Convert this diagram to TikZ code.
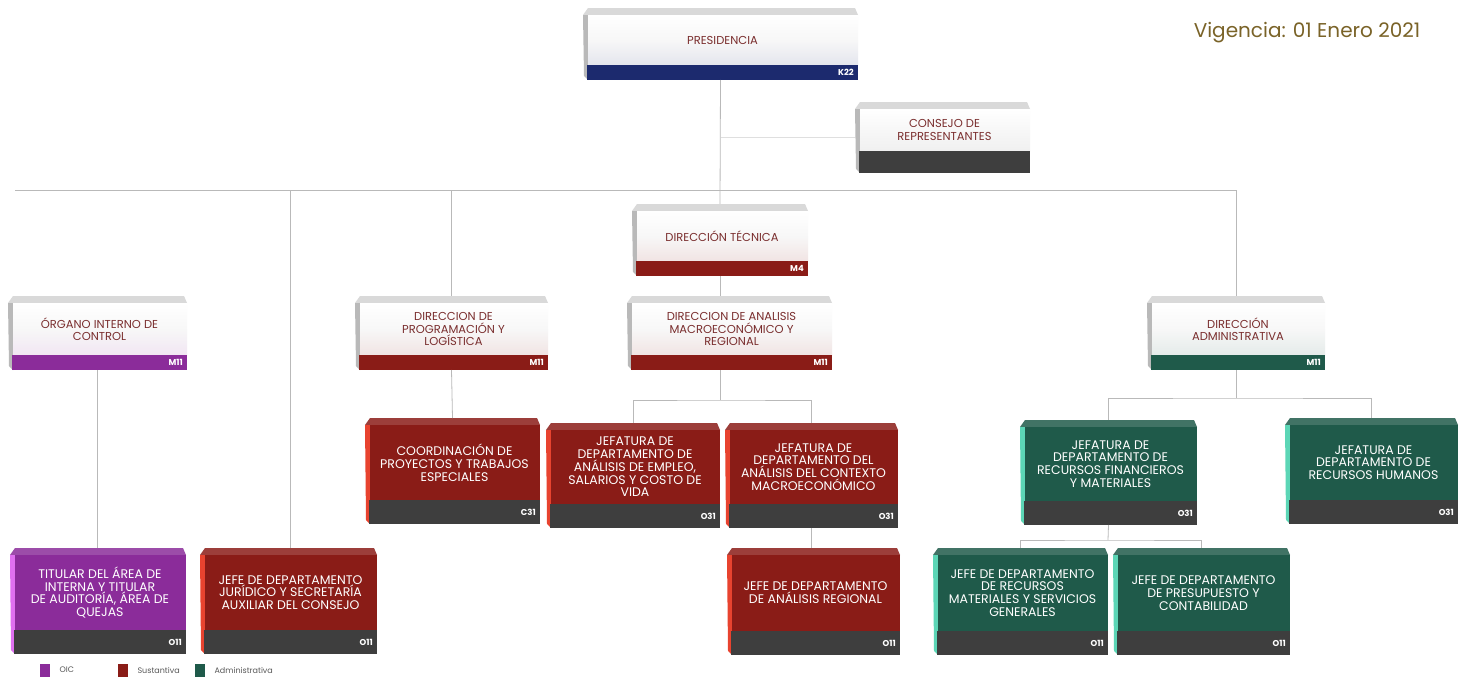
\documentclass[tikz,border=0pt]{standalone}
\usepackage{fontspec}
\setmainfont{Poppins}
\usepackage{tikz}
\usetikzlibrary{positioning}

\definecolor{azulK}{HTML}{1C2A6E}
\definecolor{rojoCaja}{HTML}{8A1C17}
\definecolor{rojoLado}{HTML}{E8432F}
\definecolor{verdeCaja}{HTML}{1F5A4A}
\definecolor{verdeLado}{HTML}{5CD6B6}
\definecolor{moradoCaja}{HTML}{8B2C9A}
\definecolor{moradoLado}{HTML}{E070F0}
\definecolor{grisBarra}{HTML}{3E3E3E}
\definecolor{textoCafe}{HTML}{7A2E2E}
\definecolor{vigencia}{HTML}{7A6328}

% alto de la barra inferior segun tipo
\def\altoBlanca{15}
\def\altoConsejo{22}
\def\altoRoja{24}
\def\altoVerde{24}
\def\altoMorada{24}

\tikzset{
  caja/.style={rectangle, inner sep=0pt, outer sep=0pt, draw=none},
  linea/.style={draw=gray!55, line width=0.8pt},
  clave/.style={inner sep=0pt, text=white, font=\fontsize{8.5}{8.5}\selectfont\bfseries},
  leyenda/.style={anchor=west, text=gray!70!black, font=\fontsize{8}{8}\selectfont},
  textoBlanca/.style={align=center, inner sep=0pt, text=textoCafe, font=\fontsize{11.5}{12.5}\selectfont},
  textoConsejo/.style={textoBlanca},
  textoRoja/.style={align=center, inner sep=0pt, text=white, font=\fontsize{12.5}{12.8}\selectfont},
  textoVerde/.style={textoRoja},
  textoMorada/.style={textoRoja},
  caraBlanca/.style={top color=white, bottom color=#1!12, middle color=gray!6},
  caraConsejo/.style={top color=white, bottom color=gray!12},
  topeBlanca/.style={fill=gray!30},
  topeConsejo/.style={topeBlanca},
  ladoBlanca/.style={fill=gray!55},
  ladoConsejo/.style={ladoBlanca},
  caraRoja/.style={fill=rojoCaja},
  topeRoja/.style={fill=rojoCaja!85!white},
  ladoRoja/.style={fill=rojoLado},
  caraVerde/.style={fill=verdeCaja},
  topeVerde/.style={fill=verdeCaja!85!white},
  ladoVerde/.style={fill=verdeLado},
  caraMorada/.style={fill=moradoCaja},
  topeMorada/.style={fill=moradoCaja!85!white},
  ladoMorada/.style={fill=moradoLado}
}

% #1 tipo, #2 nombre, #3 #4 esquina sup. izq., #5 #6 esquina inf. der., #7 barra, #8 clave, #9 texto
\newcommand{\unidad}[9]{%
  \edef\barra{\csname alto#1\endcsname}%
  \fill[tope#1] (#3,#4+7) -- (#3+5,#4) -- (#5-3,#4) -- (#5,#4+7) -- cycle;
  \fill[lado#1] (#3,#4+7) -- (#3+5,#4+7) -- (#3+5,#6) -- (#3+1,#6-4) -- cycle;
  \fill[cara#1=#7] (#3+5,#4+7) rectangle (#5,#6-\barra);
  \fill[#7] (#3+4,#6-\barra) rectangle (#5,#6);
  \node[caja, minimum width={#5-#3}, minimum height={#6-#4}] (#2) at ({(#3+#5)/2},{(#4+#6)/2}) {};
  \node[texto#1] (#2-t) at ({(#3+#5)/2+2},{(#4+7+#6-\barra)/2}) {#9};
  \node[clave, anchor=east] (#2-c) at (#5-4,{#6-\barra/2}) {#8};
}

\begin{document}
\begin{tikzpicture}[x=1pt,y=-1pt]
\fill[white] (0,0) rectangle (1468,688);
\useasboundingbox (0,0) rectangle (1468,688);

\node[text=vigencia, font=\fontsize{20}{22}\selectfont] (vig) at (1307,33) {Vigencia: 01 Enero 2021};

% conectores
\coordinate (bus) at (15,190);
\coordinate (ramaA) at (720,400);
\coordinate (ramaB) at (1236,398);
\coordinate (ramaC) at (1108,540);

\unidad{Blanca}{presidencia}{583}{8}{858}{80}{azulK}{K22}{PRESIDENCIA}
\unidad{Consejo}{consejo}{855}{102}{1030}{173}{grisBarra}{}{CONSEJO DE\\REPRESENTANTES}

\draw[draw=gray!25, line width=0.8pt] (presidencia.south |- consejo.west) -- (consejo.west);
\draw[linea] (presidencia.south) -- (720,204);
\draw[linea] (bus) -- (1236,190) -- (1236,296);
\draw[linea] (290,190) -- (290,548);
\draw[linea] (451,190) -- (451,296);

\unidad{Blanca}{tecnica}{632}{204}{808}{276}{rojoCaja}{M4}{DIRECCIÓN TÉCNICA}
\unidad{Blanca}{organo}{8}{296}{187}{370}{moradoCaja}{M11}{ÓRGANO INTERNO DE\\CONTROL}
\unidad{Blanca}{programacion}{355}{296}{548}{370}{rojoCaja}{M11}{DIRECCION DE\\PROGRAMACIÓN Y\\LOGÍSTICA}
\unidad{Blanca}{analisis}{627}{296}{832}{370}{rojoCaja}{M11}{DIRECCION DE ANALISIS\\MACROECONÓMICO Y\\REGIONAL}
\unidad{Blanca}{administrativa}{1147}{296}{1325}{370}{verdeCaja}{M11}{DIRECCIÓN\\ADMINISTRATIVA}

\draw[linea] (tecnica.south) -- (tecnica.south |- analisis.north);
\draw[linea] (tecnica.south |- analisis.south) -- (ramaA);
\draw[linea] (administrativa.south) -- (ramaB);

\unidad{Roja}{coordinacion}{365}{418}{540}{524}{grisBarra}{C31}{COORDINACIÓN DE\\PROYECTOS Y TRABAJOS\\ESPECIALES}
\unidad{Roja}{empleo}{546}{423}{720}{528}{grisBarra}{O31}{JEFATURA DE\\DEPARTAMENTO DE\\ANÁLISIS DE EMPLEO,\\SALARIOS Y COSTO DE\\VIDA}
\unidad{Roja}{contexto}{725}{423}{898}{528}{grisBarra}{O31}{JEFATURA DE\\DEPARTAMENTO DEL\\ANÁLISIS DEL CONTEXTO\\MACROECONÓMICO}
\unidad{Verde}{recfin}{1020}{420}{1197}{525}{grisBarra}{O31}{JEFATURA DE\\DEPARTAMENTO DE\\RECURSOS FINANCIEROS\\Y MATERIALES}
\unidad{Verde}{rrhh}{1285}{418}{1458}{524}{grisBarra}{O31}{JEFATURA DE\\DEPARTAMENTO DE\\RECURSOS HUMANOS}

\draw[linea] (organo.south) -- (organo.south |- 0,548);
\draw[linea] (programacion.south) -- (coordinacion.north);
\draw[linea] (empleo.north) |- (ramaA) -| (contexto.north);
\draw[linea] (recfin.north) |- (ramaB) -| (rrhh.north);
\draw[linea] (contexto.south) -- (contexto.south |- 0,548);
\draw[linea] (recfin.south) -- (ramaC);

\unidad{Morada}{titular}{10}{548}{186}{654}{grisBarra}{O11}{TITULAR DEL ÁREA DE\\INTERNA Y TITULAR\\DE AUDITORÍA, ÁREA DE\\QUEJAS}
\unidad{Roja}{juridico}{200}{548}{377}{654}{grisBarra}{O11}{JEFE DE DEPARTAMENTO\\JURÍDICO Y SECRETARÍA\\AUXILIAR DEL CONSEJO}
\unidad{Roja}{regional}{727}{548}{900}{655}{grisBarra}{O11}{JEFE DE DEPARTAMENTO\\DE ANÁLISIS REGIONAL}
\unidad{Verde}{materiales}{933}{548}{1108}{655}{grisBarra}{O11}{JEFE DE DEPARTAMENTO\\DE RECURSOS\\MATERIALES Y SERVICIOS\\GENERALES}
\unidad{Verde}{presupuesto}{1113}{548}{1290}{655}{grisBarra}{O11}{JEFE DE DEPARTAMENTO\\DE PRESUPUESTO Y\\CONTABILIDAD}

\draw[linea] (materiales.north) |- (ramaC) -| (presupuesto.north);

% leyenda
\fill[moradoCaja] (40,664) rectangle (50,677);
\node[leyenda] (leyOIC) at (56,670) {OIC};
\fill[rojoCaja] (118,664) rectangle (128,677);
\node[leyenda] (leySus) at (134,670) {Sustantiva};
\fill[verdeCaja] (195,664) rectangle (205,677);
\node[leyenda] (leyAdm) at (211,670) {Administrativa};
\end{tikzpicture}
\end{document}
